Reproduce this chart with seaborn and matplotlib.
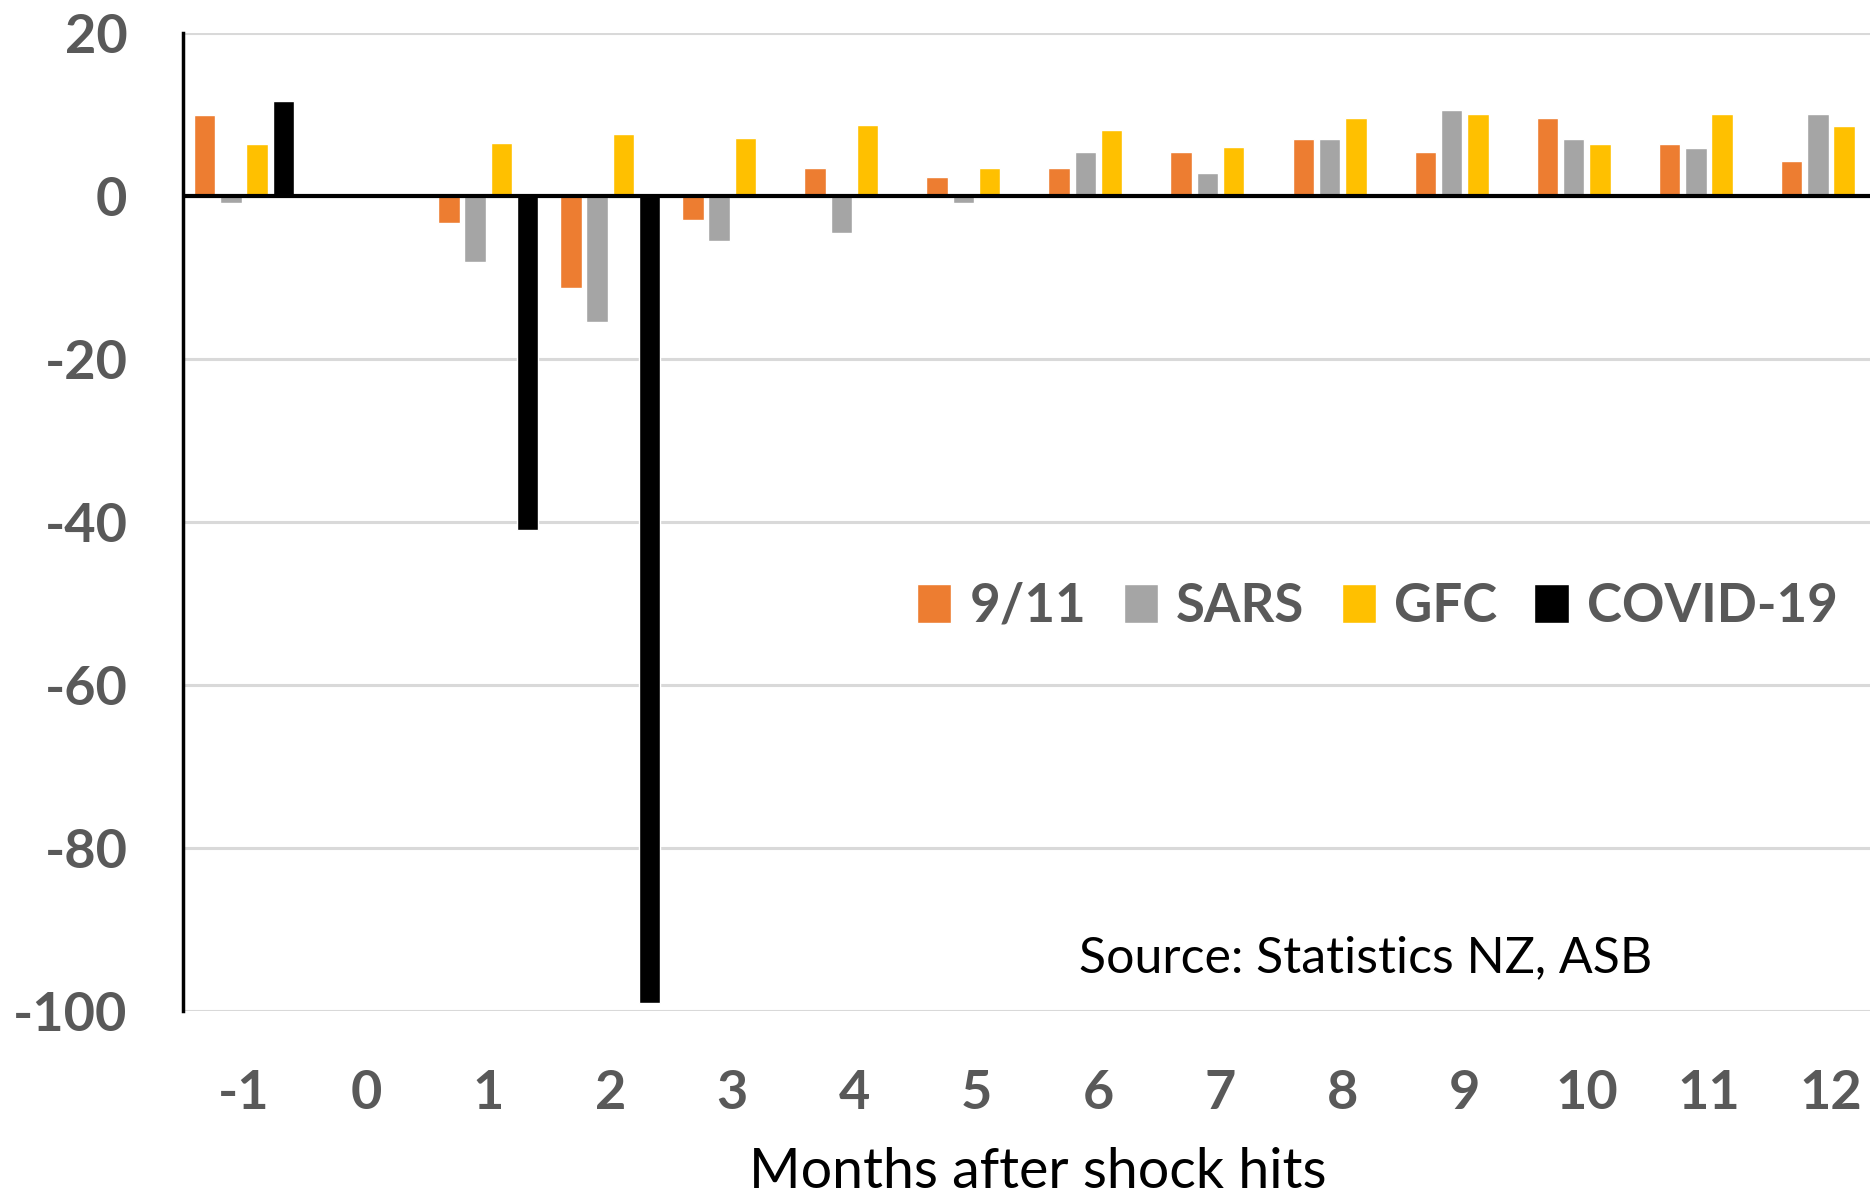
import numpy as np
import pandas as pd
import matplotlib
matplotlib.use("Agg")
import matplotlib.pyplot as plt
import seaborn as sns

months = ["-1", "0", "1", "2", "3", "4", "5", "6", "7", "8", "9", "10", "11", "12"]
series_names = ["9/11", "SARS", "GFC", "COVID-19"]
nan = np.nan
s911 = [10.0, nan, -3.3, -11.3, -2.9, 3.4, 2.3, 3.4, 5.4, 7.0, 5.4, 9.6, 6.4, 4.3]
sars = [-0.8, nan, -8.1, -15.4, -5.5, -4.5, -0.8, 5.4, 2.8, 7.0, 10.6, 7.0, 5.9, 10.1]
gfc = [6.4, nan, 6.5, 7.6, 7.1, 8.7, 3.4, 8.1, 6.0, 9.6, 10.1, 6.4, 10.1, 8.6]
covid = [11.7, nan, -41.0, -99.0, nan, nan, nan, nan, nan, nan, nan, nan, nan, nan]
y_ticks = [20, 0, -20, -40, -60, -80, -100]
colors = ["#ED7D31", "#A5A5A5", "#FFC000", "#000000"]

rows = []
for name, vals in zip(series_names, [s911, sars, gfc, covid]):
    for m, v in zip(months, vals):
        rows.append({"month": m, "series": name, "value": v})
df = pd.DataFrame(rows)

sns.set_theme(style="white")
plt.rcParams["font.family"] = ["Lato", "DejaVu Sans"]

W, H = 1870, 1195
fig = plt.figure(figsize=(W / 100, H / 100), dpi=100)
ax_left, ax_right = 183, 1892
ax_top, ax_bottom = 33, 1011
ax = fig.add_axes([ax_left / W, 1 - ax_bottom / H, (ax_right - ax_left) / W, (ax_bottom - ax_top) / H])

sns.barplot(data=df, x="month", y="value", hue="series", order=months,
            hue_order=series_names, palette=colors, width=0.86, gap=0.18,
            saturation=1, ax=ax, legend=True, errorbar=None)

ax.set_ylim(-100, 20)
ax.set_xlim(-0.5, 13.5)
ax.set_yticks(y_ticks)
ax.set_yticklabels([str(t) for t in y_ticks])
ax.yaxis.grid(True, color="#D9D9D9", lw=2.2)
ax.xaxis.grid(False)
ax.set_axisbelow(True)
ax.axhline(0, color="black", lw=3, zorder=5)
for s in ["top", "right", "bottom"]:
    ax.spines[s].set_visible(False)
ax.spines["left"].set_color("black")
ax.spines["left"].set_linewidth(2.5)
ax.spines["left"].set_zorder(6)

ax.tick_params(axis="both", length=0)
ax.tick_params(axis="y", pad=40)
ax.tick_params(axis="x", pad=42)
for lab in ax.get_yticklabels() + ax.get_xticklabels():
    lab.set_fontsize(39)
    lab.set_fontweight("bold")
    lab.set_color("#595959")

ax.set_ylabel("")
ax.set_xlabel("Months after shock hits", fontsize=40, color="black", labelpad=21)

sns.move_legend(ax, loc="center", bbox_to_anchor=(0.699, 0.414), ncol=4,
                frameon=False, title=None, fontsize=38, handlelength=0.65,
                handleheight=0.75, handletextpad=0.35, columnspacing=0.7)
for t in ax.get_legend().get_texts():
    t.set_fontweight("bold")
    t.set_color("#595959")

fig.text(1079 / W, 1 - 958 / H, "Source: Statistics NZ, ASB", fontsize=36,
         color="black", ha="left", va="center")

fig.savefig("out.png", dpi=100)
